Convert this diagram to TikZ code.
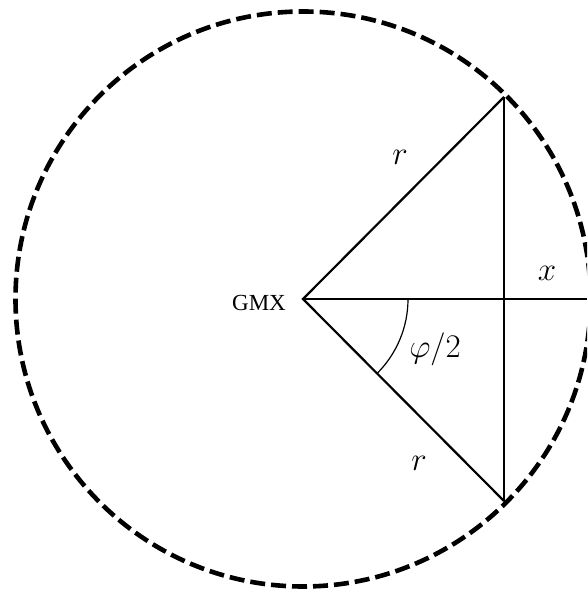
\RequirePackage{fix-cm}
\documentclass[tikz,border=0pt]{standalone}
\usepackage{fontspec}
\newfontfamily\timesfont{Liberation Serif}
\begin{document}
\begin{tikzpicture}[x=1pt,y=1pt,
  thin line/.style={line width=1.3pt},
  side line/.style={line width=2.2pt},
  dash circle/.style={line width=4.6pt, dash pattern=on 15pt off 6pt},
  mathlabel/.style={font=\fontsize{33}{38}\selectfont, inner sep=0pt},
  textlabel/.style={font=\timesfont\fontsize{23}{26}\selectfont, inner sep=0pt}]
\useasboundingbox (0,0) rectangle (587,592);
\clip (0,0) rectangle (587,592);
\coordinate (O) at (303,293);
\coordinate (A) at (504,495);
\coordinate (B) at (504,91);
\coordinate (E) at (587,293);
\coordinate (R) at (408,293);
\draw[dash circle] (O) circle[radius=287.5];
\draw[thin line] (O) -- (E);
\draw[thin line] (A) -- (B);
\draw[side line, line join=miter] (A) -- (O) -- (B);
\draw[line width=1.2pt] (R) arc[start angle=0, end angle=-45, radius=105];
\node[textlabel] (gmx) at (259,289) {GMX};
\node[mathlabel] (r1) at (400,435) {$r$};
\node[mathlabel] (r2) at (419,129) {$r$};
\node[mathlabel] (xl) at (547,319) {$x$};
\node[mathlabel] (phi) at (435,243) {$\varphi/2$};
\end{tikzpicture}
\end{document}
